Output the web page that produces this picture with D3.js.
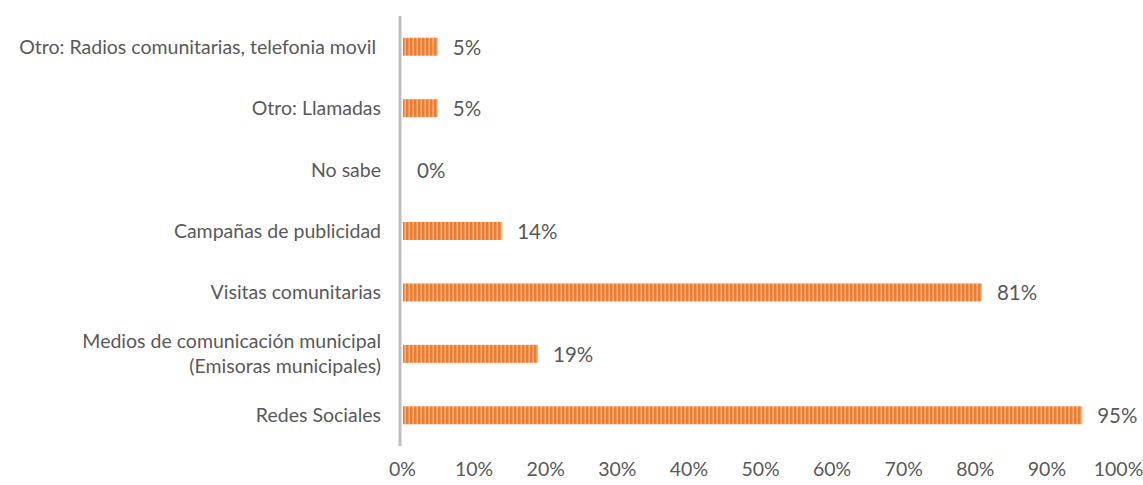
<!DOCTYPE html>
<html>
<head>
<meta charset="utf-8">
<script src="https://d3js.org/d3.v7.min.js"></script>
<style>
  body { margin: 0; background: #fff; }
  text { font-family: Lato, "Open Sans", sans-serif; fill: #595959; }
</style>
</head>
<body>
<div id="bar"></div>
<script>
// data, top to bottom as drawn
var categories = [
    ["Otro: Radios comunitarias, telefonia movil "],
    ["Otro: Llamadas"],
    ["No sabe"],
    ["Campañas de publicidad"],
    ["Visitas comunitarias"],
    ["Medios de comunicación municipal", "(Emisoras municipales)"],
    ["Redes Sociales"]
];
var values = [0.05, 0.05, 0, 0.14, 0.81, 0.19, 0.95];
var ticks = [0, 0.1, 0.2, 0.3, 0.4, 0.5, 0.6, 0.7, 0.8, 0.9, 1.0];

var margin = {top: 16, right: 25, bottom: 39, left: 402},
    width = 1143 - margin.left - margin.right,
    height = 485 - margin.top - margin.bottom;

var svg = d3.select("#bar")
    .append("svg")
    .attr("width", 1143)
    .attr("height", 485);

// stripe fill
var pat = svg.append("defs").append("pattern")
    .attr("id", "stripes")
    .attr("patternUnits", "userSpaceOnUse")
    .attr("width", 4)
    .attr("height", 10);
pat.append("rect").attr("width", 4).attr("height", 10).attr("fill", "#ED7D31");
pat.append("rect").attr("x", 2.5).attr("width", 1.5).attr("height", 10).attr("fill", "#F6B587");

var g = svg.append("g")
    .attr("transform", "translate(" + margin.left + "," + margin.top + ")");

var x = d3.scaleLinear()
    .domain([0, 1])
    .range([0, width]);

var y = d3.scaleBand()
    .domain(d3.range(categories.length))
    .range([0, height]);

// X axis (labels only)
var xAxis = g.append("g")
    .attr("transform", "translate(0," + height + ")")
    .call(d3.axisBottom(x).tickValues(ticks).tickFormat(d3.format(".0%")).tickSize(0).tickPadding(16));
xAxis.select(".domain").remove();
xAxis.selectAll("text")
    .style("font-size", "19.5px")
    .style("font-family", "Lato, sans-serif")
    .attr("fill", "#595959");

// category labels
var labels = g.selectAll(".cat")
    .data(categories)
    .enter()
    .append("text")
    .attr("class", "cat")
    .attr("xml:space", "preserve")
    .attr("x", -21)
    .attr("y", function(d, i) { return y(i) + y.bandwidth() / 2; })
    .style("text-anchor", "end")
    .style("font-size", "19.5px");
labels.each(function(d) {
    var t = d3.select(this);
    var y0 = -(d.length - 1) * 12.5;
    d.forEach(function(line, k) {
        t.append("tspan")
            .attr("x", -21)
            .attr("dy", k === 0 ? (y0 + 7) : 25)
            .text(line);
    });
});

// bars
var barH = 18;
g.selectAll(".bar")
    .data(values)
    .enter()
    .append("rect")
    .attr("class", "bar")
    .attr("x", x(0) + 1)
    .attr("y", function(d, i) { return y(i) + y.bandwidth() / 2 - barH / 2; })
    .attr("width", function(d) { return Math.max(0, x(d) - 1); })
    .attr("height", barH)
    .attr("fill", "url(#stripes)");

// value labels
g.selectAll(".val")
    .data(values)
    .enter()
    .append("text")
    .attr("class", "val")
    .attr("x", function(d) { return x(d) + 15; })
    .attr("y", function(d, i) { return y(i) + y.bandwidth() / 2 + 8; })
    .style("font-size", "20.5px")
    .text(function(d) { return d3.format(".0%")(d); });

// vertical axis line
g.append("line")
    .attr("x1", x(0) - 2)
    .attr("x2", x(0) - 2)
    .attr("y1", 0)
    .attr("y2", height)
    .attr("stroke", "#BFBFBF")
    .attr("stroke-width", 3);
</script>
</body>
</html>
